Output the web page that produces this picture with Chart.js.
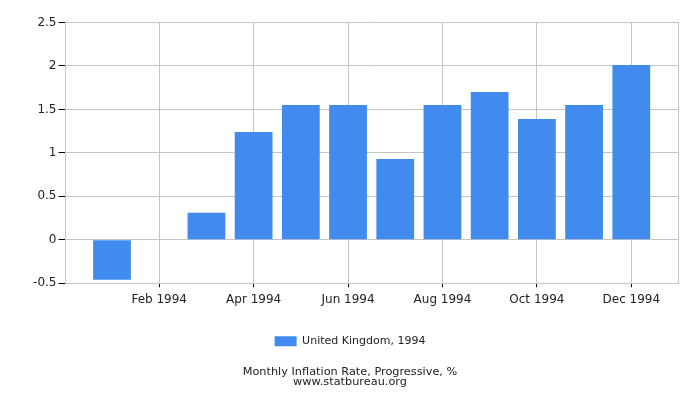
<!DOCTYPE html>
<html lang="en">
<head>
    <meta charset="UTF-8">
    <title>Monthly Inflation Rate, Progressive, %</title>
    <script src="https://cdn.jsdelivr.net/npm/chart.js"></script>
    <style>
        html, body { margin: 0; padding: 0; background: #fff; }
        #chart-container { width: 700px; height: 400px; }
    </style>
</head>
<body>
<div id="chart-container">
    <canvas id="inflationChart" width="700" height="400"></canvas>
</div>

<script>
    // Monthly values for 1994
    const months = ['Jan 1994', 'Feb 1994', 'Mar 1994', 'Apr 1994', 'May 1994', 'Jun 1994',
                    'Jul 1994', 'Aug 1994', 'Sep 1994', 'Oct 1994', 'Nov 1994', 'Dec 1994'];
    const values = [-0.46, 0, 0.31, 1.24, 1.55, 1.55, 0.93, 1.55, 1.70, 1.39, 1.55, 2.01];
    const xTickIndex = [1, 3, 5, 7, 9, 11];   // Feb, Apr, Jun, Aug, Oct, Dec
    const yTicks = [-0.5, 0, 0.5, 1, 1.5, 2, 2.5];
    const seriesLabel = 'United Kingdom, 1994';
    const titleLines = ['Monthly Inflation Rate, Progressive, %', 'www.statbureau.org'];

    const textColor = '#222';
    const gridColor = '#c4c4c4';
    const barColor = '#418bee';

    const ctx = document.getElementById('inflationChart').getContext('2d');
    const chart = new Chart(ctx, {
        type: 'bar',
        data: {
            datasets: [{
                label: seriesLabel,
                data: values.map((v, i) => ({ x: i, y: v })),
                backgroundColor: barColor,
                borderWidth: 0,
                barPercentage: 0.8,
                categoryPercentage: 1.0,
            }],
        },
        options: {
            responsive: false,
            animation: false,
            // no right padding here: the right axis takes that room so legend/title stay centred on the canvas
            layout: { padding: { left: 0, right: 0, top: 22.5, bottom: 8 } },
            plugins: {
                tooltip: { enabled: false },
                legend: {
                    position: 'bottom',
                    labels: {
                        color: textColor,
                        font: { family: 'DejaVu Sans', size: 11 },
                        boxWidth: 22,
                        boxHeight: 10,
                        padding: 14,
                    }
                },
                title: {
                    display: true,
                    position: 'bottom',
                    text: titleLines,
                    color: textColor,
                    font: { family: 'DejaVu Sans', size: 11.3, weight: 'normal', lineHeight: 0.9 },
                    padding: { top: 10, bottom: 5 },
                }
            },
            scales: {
                x: {
                    type: 'linear',
                    offset: false,
                    min: -0.985,
                    max: 12.0,
                    afterBuildTicks: (scale) => {
                        scale.ticks = xTickIndex.map(v => ({ value: v }));
                    },
                    afterFit: (scale) => { scale.height += 10; },
                    ticks: {
                        callback: (value) => months[value],
                        color: textColor,
                        font: { family: 'DejaVu Sans', size: 12 },
                        padding: 5,
                        maxRotation: 0,
                        autoSkip: false,
                    },
                    grid: { offset: false, color: gridColor, tickColor: '#000', tickLength: 4 },
                    border: { color: gridColor },
                },
                y: {
                    min: -0.5,
                    max: 2.5,
                    afterBuildTicks: (scale) => {
                        scale.ticks = yTicks.map(v => ({ value: v }));
                    },
                    afterFit: (scale) => { scale.width = 65.5; },
                    ticks: {
                        callback: (value) => String(value),
                        color: textColor,
                        font: { family: 'DejaVu Sans', size: 12 },
                        padding: 2,
                    },
                    grid: { color: gridColor, tickColor: '#000', tickLength: 7 },
                    border: { color: gridColor },
                },
                yRight: {
                    position: 'right',
                    min: -0.5,
                    max: 2.5,
                    afterFit: (scale) => { scale.width = 21.5; },
                    ticks: { display: false },
                    grid: { display: false },
                    border: { color: gridColor },
                }
            }
        }
    });
</script>

</body>
</html>
